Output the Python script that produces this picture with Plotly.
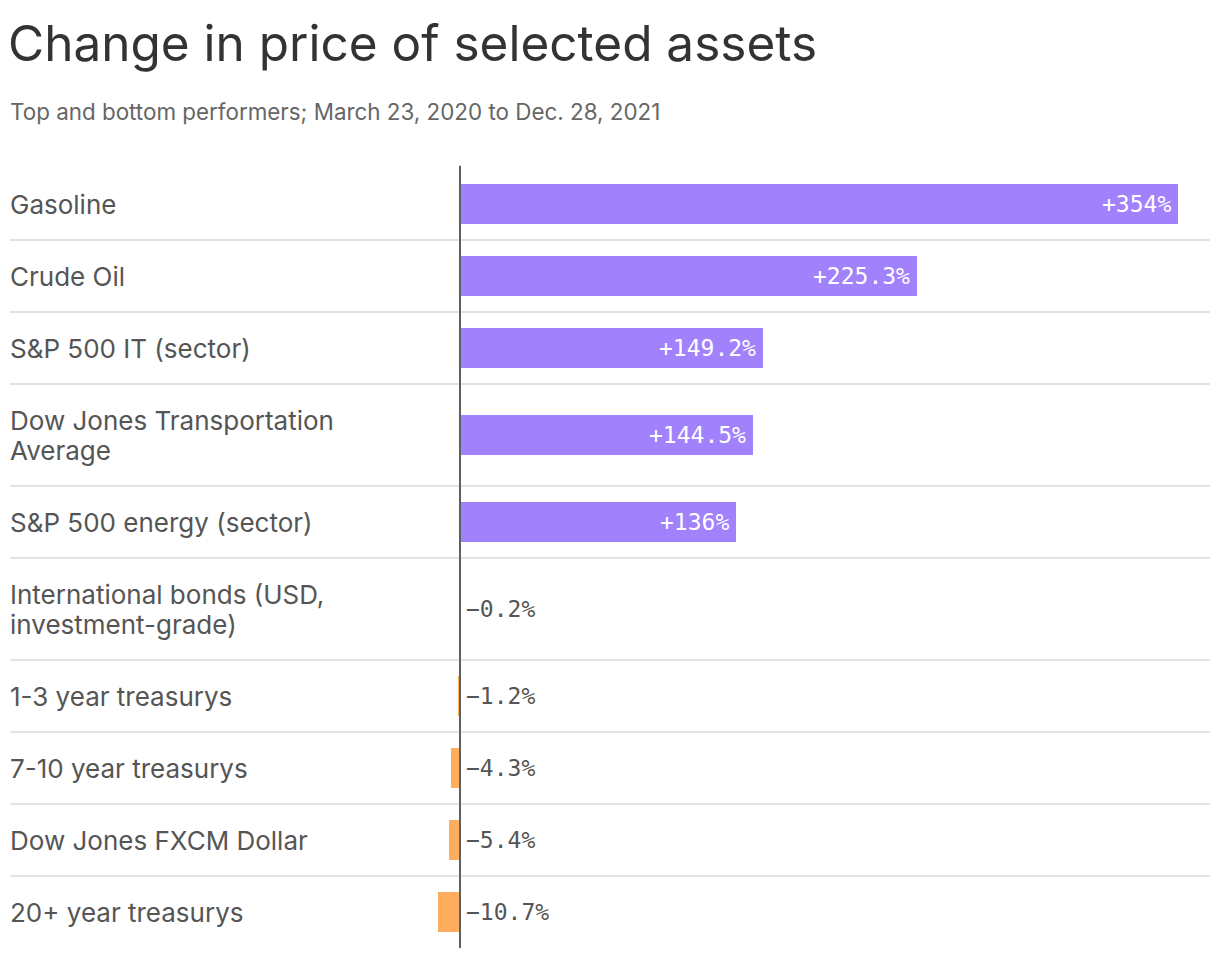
import plotly.graph_objects as go

categories = [
    "Gasoline",
    "Crude Oil",
    "S&P 500 IT (sector)",
    "Dow Jones Transportation<br>Average",
    "S&P 500 energy (sector)",
    "International bonds (USD,<br>investment-grade)",
    "1-3 year treasurys",
    "7-10 year treasurys",
    "Dow Jones FXCM Dollar",
    "20+ year treasurys",
]
values = [354, 225.3, 149.2, 144.5, 136, -0.2, -1.2, -4.3, -5.4, -10.7]
value_labels = ["+354%", "+225.3%", "+149.2%", "+144.5%", "+136%",
                "−0.2%", "−1.2%", "−4.3%", "−5.4%", "−10.7%"]

TITLE = "Change in price of selected assets"
SUBTITLE = "Top and bottom performers; March 23, 2020 to Dec. 28, 2021"

POS_COLOR = "#a281fc"
NEG_COLOR = "#fdad5c"
LABEL_FONT = "Inter"
MONO_FONT = "DejaVu Sans Mono"

# row layout (pixel-like units): single-line rows and two-line rows
BASE_ROW = 72
EXTRA_LINE = 30
heights = [BASE_ROW + EXTRA_LINE * c.count("<br>") for c in categories]
edges = [0]
for h in heights:
    edges.append(edges[-1] + h)
centers = [(edges[i] + edges[i + 1]) / 2 for i in range(len(categories))]
total = edges[-1]

# page body adds an 8px offset, so the figure is sized to fit the window
W, H = 1212, 950
ML, MR, MT, MB = 2, 10, 160, 10
plot_w = W - ML - MR
plot_h = H - MT - MB
zero_px = 450  # pixel offset of zero from plot's left edge
px_per_unit = 718 / 354
x_min = -zero_px / px_per_unit
x_max = (plot_w - zero_px) / px_per_unit

colors = [POS_COLOR if v >= 0 else NEG_COLOR for v in values]

fig = go.Figure(go.Bar(
    x=values, y=centers, orientation="h", width=40,
    marker=dict(color=colors, line=dict(width=0)),
    hoverinfo="skip",
))

shapes = []
for e in edges[1:-1]:
    shapes.append(dict(type="line", xref="paper", x0=0, x1=1, yref="y", y0=e, y1=e,
                       line=dict(color="#e3e3e3", width=2), layer="below"))
shapes.append(dict(type="line", xref="x", x0=0, x1=0, yref="paper", y0=0, y1=1.003,
                   line=dict(color="#5f5f5f", width=2), layer="above"))

annotations = []
for c, yc in zip(categories, centers):
    lines = c.split("<br>")
    n = len(lines)
    for i, ln in enumerate(lines):
        annotations.append(dict(text=ln, x=0, xref="paper", xanchor="left", xshift=-2,
                                y=yc + (i - (n - 1) / 2) * EXTRA_LINE, yref="y",
                                yanchor="middle", showarrow=False, align="left",
                                font=dict(family=LABEL_FONT, size=26, color="#555555")))
for v, lab, yc in zip(values, value_labels, centers):
    if v >= 0:
        annotations.append(dict(text=lab, x=v, xref="x", xanchor="right", xshift=-5,
                                y=yc, yref="y", yanchor="middle", showarrow=False,
                                font=dict(family=MONO_FONT, size=23, color="white")))
    else:
        annotations.append(dict(text=lab, x=0, xref="x", xanchor="left", xshift=4,
                                y=yc, yref="y", yanchor="middle", showarrow=False,
                                font=dict(family=MONO_FONT, size=23, color="#555555")))
annotations.append(dict(text=SUBTITLE, x=0, xref="paper", xanchor="left", xshift=-2,
                        y=1 + (MT - 103) / plot_h, yref="paper", yanchor="middle",
                        showarrow=False,
                        font=dict(family=LABEL_FONT, size=22.4, color="#666666")))

fig.update_layout(
    width=W, height=H,
    margin=dict(l=ML, r=MR, t=MT, b=MB),
    paper_bgcolor="white", plot_bgcolor="white",
    title=dict(text=TITLE, x=0, xref="container", xanchor="left",
               y=1 - 36 / H, yref="container", yanchor="middle",
               font=dict(family=LABEL_FONT, size=49.5, color="#333333")),
    xaxis=dict(range=[x_min, x_max], visible=False, fixedrange=True),
    yaxis=dict(range=[total, 0], visible=False, fixedrange=True),
    shapes=shapes, annotations=annotations, showlegend=False,
    bargap=0,
)

fig.write_html("out.html")
